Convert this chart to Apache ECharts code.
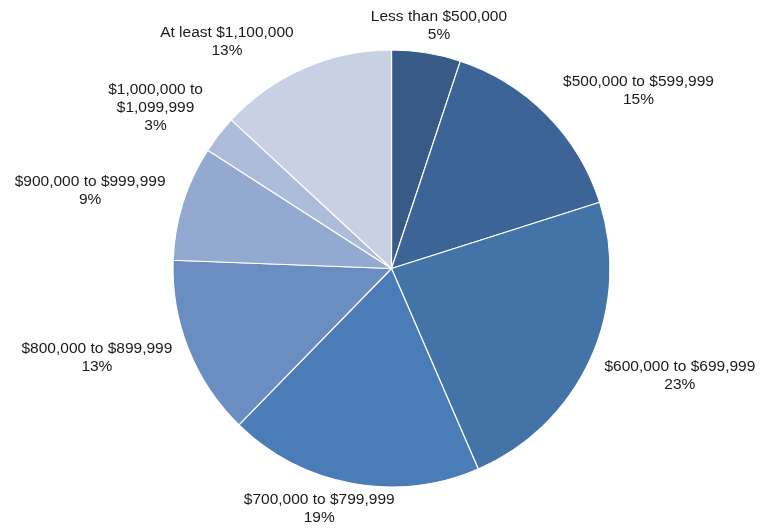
<!DOCTYPE html>
<html>
<head>
<meta charset="utf-8">
<script src="https://cdn.jsdelivr.net/npm/echarts@6/dist/echarts.min.js"></script>
<style>html,body{margin:0;padding:0;background:#fff;}#c{width:761px;height:528px;}</style>
</head>
<body>
<div id="c"></div>
<script>
var categories = ['Less than $500,000', '$500,000 to $599,999', '$600,000 to $699,999', '$700,000 to $799,999', '$800,000 to $899,999', '$900,000 to $999,999', '$1,000,000 to\n$1,099,999', 'At least $1,100,000'];
var values = [5.1, 15.0, 23.4, 18.8, 13.3, 8.5, 2.8, 13.1];
var colors = ['#375A87', '#3C6496', '#4473A8', '#4A7CB7', '#6A8DC2', '#94A9D0', '#ACBCDA', '#C8D1E4'];

// label placement tweaks (layout only)
var labelNudge = [[0, 1], [9, 1], [5, 4], [-17, -2], [-7, -3], [-8, -4], [-8, 0], [-44, 1]];

var CX = 391.5, CY = 268.5, R = 218.5, GAP = 10;
var total = values.reduce(function (a, b) { return a + b; }, 0);

var chart = echarts.init(document.getElementById('c'));
chart.setOption({
  backgroundColor: '#ffffff',
  animation: false,
  series: [{
    type: 'pie',
    center: [CX, CY],
    radius: [0, R],
    startAngle: 90,
    clockwise: true,
    avoidLabelOverlap: false,
    data: categories.map(function (c, i) {
      return { name: c, value: values[i], itemStyle: { color: colors[i] } };
    }),
    itemStyle: { borderColor: '#ffffff', borderWidth: 1.2 },
    label: {
      show: true,
      position: 'outside',
      formatter: function (p) { return p.name + '\n' + Math.round(p.value) + '%'; },
      fontFamily: 'Liberation Sans, Arial, sans-serif',
      fontSize: 15.5,
      lineHeight: 18,
      color: '#1a1a1a',
      align: 'center'
    },
    labelLine: { show: false },
    labelLayout: function (params) {
      var i = params.dataIndex;
      var before = 0;
      for (var k = 0; k < i; k++) before += values[k];
      var mid = (before + values[i] / 2) / total * 2 * Math.PI;
      var dx = Math.sin(mid), dy = -Math.cos(mid);
      var m = Math.max(Math.abs(dx), Math.abs(dy));
      var sx = dx / m, sy = dy / m;
      var w = params.labelRect.width, h = params.labelRect.height;
      var px = CX + (R + GAP) * dx, py = CY + (R + GAP) * dy;
      return {
        x: px + sx * w / 2 + labelNudge[i][0],
        y: py + sy * h / 2 + labelNudge[i][1],
        align: 'center',
        verticalAlign: 'middle'
      };
    }
  }]
});
</script>
</body>
</html>
